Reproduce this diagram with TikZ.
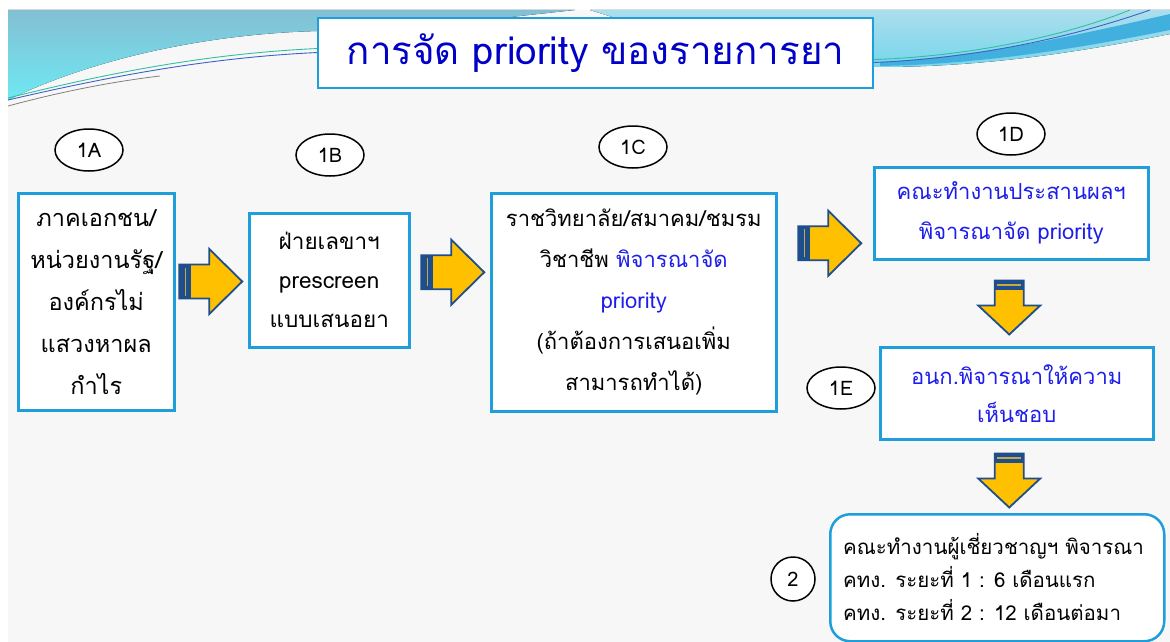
\documentclass[tikz,border=0pt]{standalone}
\usepackage{fontspec}
\setmainfont[Script=Thai]{Loma}
\usetikzlibrary{shapes.geometric,calc}
\definecolor{boxblue}{RGB}{30,158,218}
\definecolor{titleblue}{RGB}{0,0,200}
\definecolor{textblue}{RGB}{30,30,235}
\definecolor{arrowyellow}{RGB}{255,192,0}
\definecolor{arrowdark}{RGB}{31,78,140}
\definecolor{stripecol}{RGB}{200,168,70}
\definecolor{bgcol}{RGB}{247,247,247}
\definecolor{bandtop}{RGB}{131,191,211}
\definecolor{bandbot}{RGB}{111,232,243}
\definecolor{rbandtop}{RGB}{172,222,236}
\definecolor{rbandbot}{RGB}{118,214,236}
\definecolor{rstripe}{RGB}{66,176,222}
\definecolor{lineteal}{RGB}{48,192,160}
\definecolor{lineblue}{RGB}{64,96,200}
\tikzset{
  box/.style={draw=boxblue, line width=2.5pt, fill=white, align=center, inner sep=0pt, anchor=north west},
  oval/.style={draw=black, ellipse, line width=1.5pt, fill=white, minimum width=68pt, minimum height=42pt, inner sep=0pt, font=\fontsize{20}{24}\selectfont},
  rfat/.pic={
    \fill[arrowyellow] (0,-17) -- (30,-17) -- (30,-32.5) -- (63,0) -- (30,32.5) -- (30,17) -- (0,17) -- cycle;
    \fill[arrowdark] (0,-17) rectangle (12,17);
    \draw[stripecol, line width=1.2pt] (6.5,-14) -- (6.5,14);
    \draw[arrowdark, line width=1.8pt, line join=miter] (0,-17) -- (30,-17) -- (30,-32.5) -- (63,0) -- (30,32.5) -- (30,17) -- (0,17) -- cycle;
  },
  dfat/.pic={
    \fill[arrowyellow] (-14.5,0) -- (-14.5,25) -- (-31,25) -- (0,54) -- (31,25) -- (14.5,25) -- (14.5,0) -- cycle;
    \fill[arrowdark] (-14.5,0) rectangle (14.5,9);
    \draw[stripecol, line width=1.2pt] (-12,4.5) -- (12,4.5);
    \draw[arrowdark, line width=1.8pt, line join=miter] (-14.5,0) -- (-14.5,25) -- (-31,25) -- (0,54) -- (31,25) -- (14.5,25) -- (14.5,0) -- cycle;
  }
}
\begin{document}
\begin{tikzpicture}[x=1pt,y=-1pt]
\useasboundingbox (0,0) rectangle (1170,642);
\fill[white] (0,0) rectangle (1170,642);
\fill[bgcol] (8,10) rectangle (1170,642);
% top decoration
\fill[top color=bandtop, bottom color=bandbot] (8,10) -- (575,10) .. controls (500,18) and (420,28) .. (320,31) .. controls (220,33) and (100,55) .. (8,100) -- cycle;
\fill[top color=rbandtop, bottom color=rbandbot] (590,10) -- (1170,10) -- (1170,34) .. controls (1090,50) and (990,67) .. (880,67) .. controls (770,67) and (670,35) .. (590,10) -- cycle;
\fill[rstripe] (880,62) .. controls (990,56) and (1090,32) .. (1170,14) -- (1170,30) .. controls (1090,46) and (990,64) .. (880,66) -- cycle;
\draw[lineteal, line width=0.9pt] (8,98) .. controls (120,70) and (220,52) .. (330,48);
\draw[lineblue, line width=0.9pt] (8,100) .. controls (120,74) and (220,56) .. (330,52);
\draw[gray, line width=0.8pt] (8,106) .. controls (60,92) and (110,82) .. (160,76);
\draw[lineteal, line width=0.9pt] (860,60) .. controls (960,58) and (1060,38) .. (1130,10);
\draw[lineblue, line width=0.9pt] (860,63) .. controls (970,60) and (1070,38) .. (1150,10);
% title
\node[draw=boxblue, line width=2.5pt, fill=white, minimum width=555pt, minimum height=70pt, inner sep=0pt, text=titleblue, font=\fontsize{38.5}{42}\selectfont] (title) at (595.5,53) {การจัด priority ของรายการยา};
% boxes
\node[box, minimum width=156pt, minimum height=217pt, font=\fontsize{23.5}{42}\selectfont] (A) at (17,192) {ภาคเอกชน/\\หน่วยงานรัฐ/\\องค์กรไม่\\แสวงหาผล\\กำไร};
\node[box, minimum width=160pt, minimum height=134pt, font=\fontsize{22.5}{39}\selectfont] (B) at (248,212) {ฝ่ายเลขาฯ\\prescreen\\แบบเสนอยา};
\node[box, minimum width=285pt, minimum height=218pt, font=\fontsize{22}{41}\selectfont] (C) at (490,192) {ราชวิทยาลัย/สมาคม/ชมรม\\วิชาชีพ \textcolor{textblue}{พิจารณาจัด}\\\textcolor{textblue}{priority}\\(ถ้าต้องการเสนอเพิ่ม\\สามารถทำได้)};
\node[box, minimum width=274pt, minimum height=92pt, text=textblue, font=\fontsize{22}{40}\selectfont] (D) at (873,166) {คณะทำงานประสานผลฯ\\พิจารณาจัด priority};
\node[box, minimum width=273pt, minimum height=92pt, text=textblue, font=\fontsize{22}{38}\selectfont] (E) at (879,346) {อนก.พิจารณาให้ความ\\เห็นชอบ};
\node[draw=boxblue, line width=2.5pt, fill=white, rounded corners=20pt, minimum width=334pt, minimum height=127pt, anchor=north west] (F) at (829,513) {};
\node[anchor=west, align=left, inner sep=0pt, font=\fontsize{20.5}{33}\selectfont] (Ftext) at ($(F.west)+(14,-1)$) {คณะทำงานผู้เชี่ยวชาญฯ พิจารณา\\คทง. ระยะที่ 1 : 6 เดือนแรก\\คทง. ระยะที่ 2 : 12 เดือนต่อมา};
% labels
\node[oval] (lA) at (89,150) {1A};
\node[oval] (lB) at (330,155) {1B};
\node[oval] (lC) at (633,147) {1C};
\node[oval] (lD) at (1011,134) {1D};
\node[oval] (lE) at (841,388) {1E};
\node[draw=black, circle, line width=1.5pt, fill=white, minimum size=44pt, inner sep=0pt, font=\fontsize{20}{24}\selectfont] (l2) at (793,579) {2};
% block arrows
\pic at ($(A.east)!0.5!(B.west)+(-32.5,-9.5)$) {rfat};
\pic at ($(B.east)!0.5!(C.west)+(-29,-19)$) {rfat};
\pic at ($(C.east)!0.5!(D.west)+(-27,-14.5)$) {rfat};
\pic at ($(D.south)+(-2,20)$) {dfat};
\pic at ($(E.south)+(-7.5,13)$) {dfat};
\end{tikzpicture}
\end{document}
